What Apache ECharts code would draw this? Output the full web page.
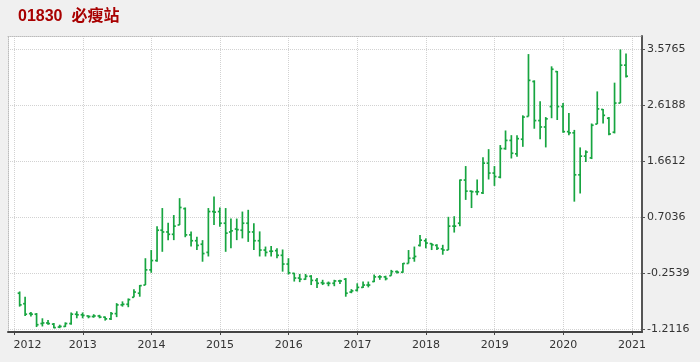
<!DOCTYPE html>
<html><head><meta charset="utf-8">
<script src="https://cdn.jsdelivr.net/npm/echarts@6/dist/echarts.min.js"></script>
<style>html,body{margin:0;padding:0;background:#f0f0f0}#c{width:700px;height:362px}</style>
</head><body><div id="c"></div>
<script>
const chartTitle = '01830  必瘦站';
const months = [
 '2012-01','2012-02','2012-03','2012-04','2012-05','2012-06','2012-07','2012-08','2012-09','2012-10','2012-11','2012-12',
 '2013-01','2013-02','2013-03','2013-04','2013-05','2013-06','2013-07','2013-08','2013-09','2013-10','2013-11','2013-12',
 '2014-01','2014-02','2014-03','2014-04','2014-05','2014-06','2014-07','2014-08','2014-09','2014-10','2014-11','2014-12',
 '2015-01','2015-02','2015-03','2015-04','2015-05','2015-06','2015-07','2015-08','2015-09','2015-10','2015-11','2015-12',
 '2016-01','2016-02','2016-03','2016-04','2016-05','2016-06','2016-07','2016-08','2016-09','2016-10','2016-11','2016-12',
 '2017-01','2017-02','2017-03','2017-04','2017-05','2017-06','2017-07','2017-08','2017-09','2017-10','2017-11','2017-12',
 '2018-01','2018-02','2018-03','2018-04','2018-05','2018-06','2018-07','2018-08','2018-09','2018-10','2018-11','2018-12',
 '2019-01','2019-02','2019-03','2019-04','2019-05','2019-06','2019-07','2019-08','2019-09','2019-10','2019-11','2019-12',
 '2020-01','2020-02','2020-03','2020-04','2020-05','2020-06','2020-07','2020-08','2020-09','2020-10','2020-11'
];
const openV = [
 -0.60,-0.78,-0.95,-0.96,-1.12,-1.11,-1.13,-1.18,-1.17,-1.12,-0.96,-0.97,
 -0.99,-1.00,-0.99,-1.01,-1.04,-0.95,-0.80,-0.79,-0.67,-0.60,-0.46,-0.20,
 -0.04,0.48,0.45,0.41,0.57,0.85,0.40,0.30,0.24,0.10,0.80,0.80,
 0.60,0.45,0.50,0.48,0.60,0.45,0.30,0.14,0.12,0.13,0.05,-0.10,
 -0.26,-0.34,-0.36,-0.31,-0.38,-0.42,-0.43,-0.43,-0.39,-0.36,-0.58,-0.55,
 -0.50,-0.46,-0.40,-0.32,-0.32,-0.30,-0.23,-0.24,-0.09,0.00,0.22,0.30,
 0.25,0.22,0.16,0.14,0.55,0.60,1.34,1.15,1.14,1.12,1.63,1.46,
 1.39,1.88,2.02,1.79,2.04,2.43,3.03,2.36,2.25,2.60,3.20,2.60,
 2.17,2.15,1.43,1.75,1.72,2.30,2.55,2.40,2.16,2.66,3.31
];
const highV = [
 -0.57,-0.66,-0.92,-0.94,-1.03,-1.06,-1.11,-1.14,-1.10,-0.93,-0.91,-0.93,
 -0.98,-0.96,-0.97,-1.00,-0.92,-0.77,-0.74,-0.69,-0.53,-0.46,0.00,0.14,
 0.55,0.86,0.61,0.74,1.03,0.87,0.46,0.37,0.31,0.86,1.06,0.87,
 0.86,0.68,0.68,0.80,0.83,0.60,0.46,0.20,0.21,0.17,0.15,0.00,
 -0.25,-0.27,-0.27,-0.29,-0.34,-0.37,-0.40,-0.37,-0.37,-0.34,-0.53,-0.43,
 -0.40,-0.40,-0.28,-0.29,-0.30,-0.20,-0.21,-0.08,0.14,0.20,0.40,0.34,
 0.26,0.24,0.23,0.71,0.72,1.35,1.58,1.16,1.35,1.73,1.87,1.58,
 1.94,2.19,2.11,2.11,2.45,3.50,3.05,2.69,2.42,3.29,3.21,2.66,
 2.49,2.20,1.90,1.85,2.31,2.86,2.56,2.42,3.01,3.58,3.51
];
const lowV = [
 -0.83,-0.99,-1.00,-1.18,-1.17,-1.14,-1.20,-1.20,-1.18,-1.14,-1.03,-1.03,
 -1.03,-1.02,-1.03,-1.07,-1.06,-1.01,-0.83,-0.84,-0.67,-0.66,-0.46,-0.25,
 -0.06,0.11,0.31,0.31,0.57,0.36,0.20,0.14,-0.06,0.03,0.57,0.54,
 0.11,0.17,0.31,0.34,0.28,0.14,0.03,0.03,0.03,0.00,-0.23,-0.28,
 -0.40,-0.41,-0.37,-0.46,-0.51,-0.46,-0.48,-0.48,-0.44,-0.66,-0.60,-0.57,
 -0.51,-0.50,-0.41,-0.37,-0.38,-0.30,-0.26,-0.25,-0.09,-0.06,0.20,0.17,
 0.14,0.14,0.06,0.14,0.44,0.55,1.00,0.86,1.08,1.10,1.35,1.24,
 1.37,1.86,1.71,1.74,1.91,2.43,2.22,2.04,1.90,2.40,2.37,2.15,
 2.11,0.97,1.11,1.65,1.70,2.30,2.31,2.11,2.14,2.66,3.10
];
const closeV = [
 -0.80,-0.96,-0.96,-1.14,-1.11,-1.12,-1.19,-1.17,-1.12,-0.96,-0.97,-0.98,
 -1.00,-0.99,-1.01,-1.04,-0.95,-0.80,-0.79,-0.71,-0.58,-0.47,-0.20,-0.04,
 0.48,0.45,0.41,0.55,0.87,0.40,0.30,0.22,0.08,0.80,0.79,0.60,
 0.43,0.47,0.49,0.60,0.45,0.30,0.14,0.10,0.12,0.05,-0.10,-0.25,
 -0.34,-0.36,-0.31,-0.38,-0.43,-0.43,-0.43,-0.39,-0.39,-0.60,-0.56,-0.50,
 -0.46,-0.46,-0.32,-0.32,-0.35,-0.23,-0.24,-0.09,0.00,0.03,0.31,0.26,
 0.23,0.17,0.14,0.55,0.55,1.34,1.15,1.14,1.14,1.63,1.46,1.40,
 1.88,2.02,1.80,2.05,2.42,3.05,2.36,2.25,2.39,3.24,2.60,2.17,
 2.15,1.43,1.75,1.82,2.28,2.56,2.45,2.13,2.66,3.31,3.12
];
const yTickValues = [-1.2116, -0.2539, 0.7036, 1.6612, 2.6188, 3.5765];
const yearTicks = [2012, 2013, 2014, 2015, 2016, 2017, 2018, 2019, 2020, 2021];

// month-end timestamp for each monthly bar
function monthEnd(s) { const p = s.split('-'); return new Date(+p[0], +p[1], 0).getTime(); }
const data = months.map((m, i) => [monthEnd(m), openV[i], highV[i], lowV[i], closeV[i]]);
const xTickTs = yearTicks.map(y => new Date(y, 0, 1).getTime());
const xMin = new Date(2011, 10, 30).getTime();
const xMax = new Date(2021, 1, 23).getTime();
const yMin = -1.265, yMax = 3.81;

const chart = echarts.init(document.getElementById('c'), null, {renderer: 'canvas'});
const lbl = {color: '#333', fontSize: 11, fontFamily: 'DejaVu Sans'};
const gridLine = {show: true, lineStyle: {color: '#d2d2d2', width: 1, type: [1, 1]}};
chart.setOption({
  backgroundColor: '#f0f0f0',
  animation: false,
  title: {text: chartTitle, left: 13, top: 4,
    textStyle: {color: '#a80000', fontSize: 16, fontWeight: 'bold', fontFamily: 'Liberation Sans, Noto Sans CJK SC'}},
  grid: {left: 8, right: 58, top: 36, bottom: 30, show: true, backgroundColor: '#ffffff', borderWidth: 0},
  xAxis: [{
    type: 'value', min: xMin, max: xMax, position: 'bottom',
    axisLine: {show: true, onZero: false, lineStyle: {color: '#444', width: 2}},
    axisTick: {show: true, customValues: xTickTs, length: 3, lineStyle: {color: '#444'}},
    axisLabel: Object.assign({}, lbl, {customValues: xTickTs, margin: 8, hideOverlap: false,
      formatter: v => { const y = new Date(v).getFullYear(); return y === 2012 ? '{f|' + y + '}' : '' + y; },
      rich: {f: {padding: [0, 0, 0, 27], color: '#333', fontSize: 11, fontFamily: 'DejaVu Sans'}}}),
    splitLine: gridLine
  }, {
    type: 'value', min: xMin, max: xMax, position: 'top',
    axisLine: {show: true, onZero: false, lineStyle: {color: '#bbb', width: 1, type: [1, 1]}},
    axisTick: {show: false}, axisLabel: {show: false}, splitLine: {show: false}
  }],
  yAxis: [{
    type: 'value', position: 'right', min: yMin, max: yMax,
    axisLine: {show: true, onZero: false, lineStyle: {color: '#555', width: 2}},
    axisTick: {show: true, customValues: yTickValues, length: 3, lineStyle: {color: '#555'}},
    axisLabel: Object.assign({}, lbl, {customValues: yTickValues, margin: 5, formatter: v => v.toFixed(4)}),
    splitLine: gridLine
  }, {
    type: 'value', position: 'left', min: yMin, max: yMax,
    axisLine: {show: true, onZero: false, lineStyle: {color: '#bbb', width: 1, type: [1, 1]}},
    axisTick: {show: false}, axisLabel: {show: false}, splitLine: {show: false}
  }],
  series: [{
    type: 'custom',
    xAxisIndex: 0, yAxisIndex: 0,
    data: data,
    encode: {x: 0, y: [1, 2, 3, 4]},
    renderItem: function (params, api) {
      const x = api.value(0);
      const pO = api.coord([x, api.value(1)]);
      const pH = api.coord([x, api.value(2)]);
      const pL = api.coord([x, api.value(3)]);
      const pC = api.coord([x, api.value(4)]);
      const w = 2;
      const style = {stroke: '#17a540', lineWidth: 1.7};
      return {type: 'group', children: [
        {type: 'line', shape: {x1: pH[0], y1: pH[1], x2: pL[0], y2: pL[1]}, style: style},
        {type: 'line', shape: {x1: pO[0] - w, y1: pO[1], x2: pO[0], y2: pO[1]}, style: style},
        {type: 'line', shape: {x1: pC[0], y1: pC[1], x2: pC[0] + w, y2: pC[1]}, style: style}
      ]};
    }
  }]
});
</script></body></html>
